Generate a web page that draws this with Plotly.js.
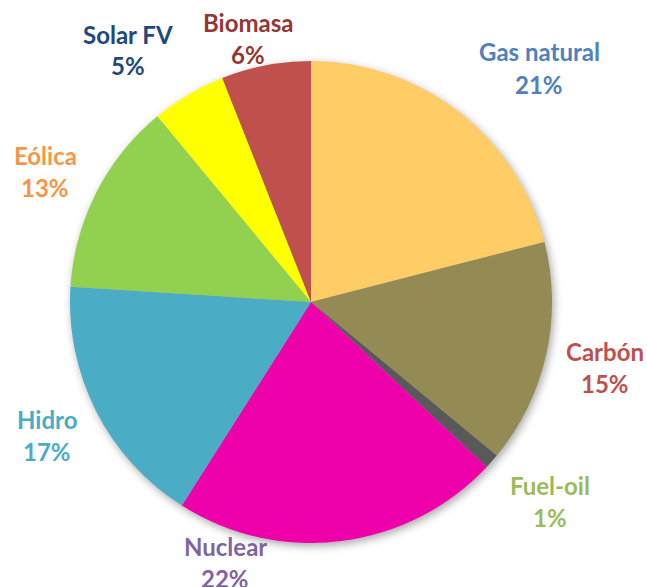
<!DOCTYPE html>
<html>
<head>
<meta charset="utf-8">
<script src="https://cdn.plot.ly/plotly-3.0.1.min.js"></script>
<style>
html,body{margin:0;padding:0;background:#fff;}
#chart{width:647px;height:587px;}
.pielayer{filter:drop-shadow(2px 3px 4px rgba(0,0,0,0.35));}
</style>
</head>
<body>
<div id="chart"></div>
<script>
// Data
const categories = ["Gas natural", "Carbón", "Fuel-oil", "Nuclear", "Hidro", "Eólica", "Solar FV", "Biomasa"];
const shares = [21, 15, 1, 22, 17, 13, 5, 6];

// Styles
const sliceColors = ["#FFCC66", "#948A54", "#595959", "#EE00AA", "#4BACC6", "#92D050", "#FFFF00", "#C0504D"];
const labelColors = ["#4F81BD", "#C0504D", "#9BBB59", "#8064A2", "#4BACC6", "#F79646", "#1F497D", "#943634"];
// label placement (pixel centers): [x, nameY, pctY]
const labelPos = [
  [539, 52, 84],
  [605, 351, 383],
  [550, 485, 517],
  [225, 546, 578],
  [47, 419, 451],
  [45, 155, 187],
  [128, 34, 66],
  [248, 22, 55]
];

const W = 647, H = 587;
const total = shares.reduce((a, b) => a + b, 0);

const trace = {
  type: "pie",
  labels: categories,
  values: shares,
  sort: false,
  direction: "clockwise",
  rotation: 0,
  textinfo: "none",
  hoverinfo: "label+percent",
  marker: {colors: sliceColors, line: {width: 0}},
  domain: {x: [(311 - 241) / W, (311 + 241) / W], y: [(H - 302 - 241) / H, (H - 302 + 241) / H]},
  showlegend: false
};

const annotations = [];
categories.forEach((c, i) => {
  const [x, ny, py] = labelPos[i];
  const font = {family: "Lato, 'Open Sans', sans-serif", size: 24, color: labelColors[i], weight: 700};
  annotations.push({text: c, x: x / W, y: 1 - ny / H, xref: "paper", yref: "paper",
    xanchor: "center", yanchor: "middle", showarrow: false, font: font});
  annotations.push({text: Math.round(shares[i] / total * 100) + "%", x: x / W, y: 1 - py / H,
    xref: "paper", yref: "paper", xanchor: "center", yanchor: "middle", showarrow: false, font: font});
});

const layout = {
  width: W, height: H,
  margin: {l: 0, r: 0, t: 0, b: 0},
  paper_bgcolor: "#ffffff",
  plot_bgcolor: "#ffffff",
  showlegend: false,
  annotations: annotations
};

Plotly.newPlot("chart", [trace], layout, {displayModeBar: false, staticPlot: true});
</script>
</body>
</html>
